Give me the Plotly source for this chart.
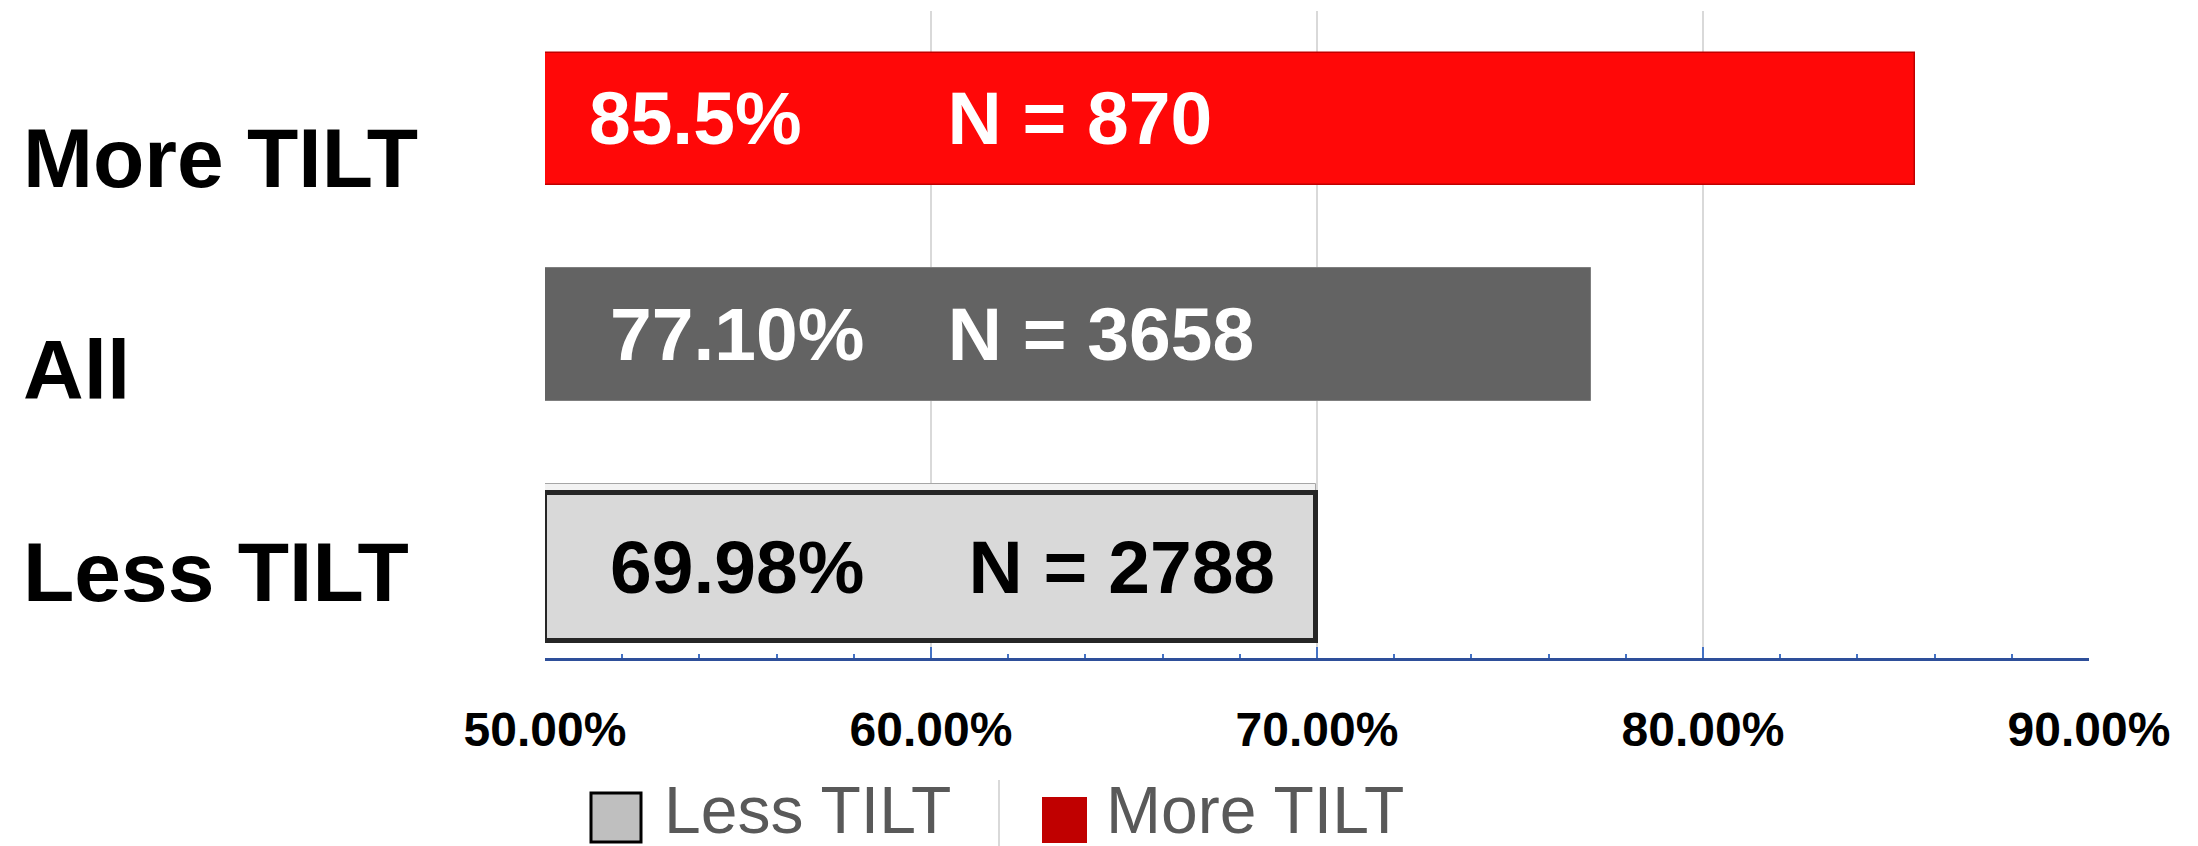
import plotly.graph_objects as go

# ---- data ----
categories = ["Less TILT", "All", "More TILT"]
values = [69.98, 77.10, 85.5]
pct_labels = ["69.98%", "77.10%", "85.5%"]
n_labels = ["N = 2788", "N = 3658", "N = 870"]
axis_min = 50
axis_max = 90
tick_values = [50, 60, 70, 80, 90]
tick_labels = ["50.00%", "60.00%", "70.00%", "80.00%", "90.00%"]
legend_names = ["Less TILT", "More TILT"]

# ---- styles ----
W, H = 2198, 846
L, R, T, B = 545, 2089, 11, 658
NB = "\u00a0"
lead_spaces = [3, 3, 2]
gap_spaces = [5, 4, 7]
bar_colors = ["#D9D9D9", "#636363", "#FF0808"]
line_colors = ["#262626", "#7F7F7F", "#C00000"]
line_widths = [5, 1, 1.5]
text_colors = ["#000000", "#FFFFFF", "#FFFFFF"]
bar_widths = [0.686, 0.615, 0.615]
bar_offsets = [-0.422, -0.3075, -0.3075]
label_yshift = [-22, -35, -39]

ARIAL = "Liberation Sans, Arial, sans-serif"

def px_x(p):
    return (p - L) / (R - L)

def px_y(p):
    return (B - p) / (B - T)

bar_text = [NB * lead_spaces[i] + pct_labels[i] + NB * gap_spaces[i] + n_labels[i]
            for i in range(len(categories))]
sizes = [v - axis_min for v in values]

fig = go.Figure()

# subtle shadow bar behind the emphasised "Less TILT" bar
fig.add_trace(go.Bar(
    y=categories[:1], x=sizes[:1], base=axis_min, orientation="h",
    width=0.615, marker=dict(color="#F2F2F2", line=dict(color="#A6A6A6", width=1)),
    showlegend=False, hoverinfo="skip",
))

fig.add_trace(go.Bar(
    y=categories, x=sizes, base=axis_min, orientation="h",
    width=bar_widths, offset=bar_offsets,
    marker=dict(color=bar_colors, line=dict(color=line_colors, width=line_widths)),
    text=bar_text, textposition="inside", insidetextanchor="start",
    textfont=dict(family=ARIAL, size=75, color=text_colors, weight="bold"),
    constraintext="none", textangle=0,
    showlegend=False,
))

annotations = []
for i, c in enumerate(categories):
    annotations.append(dict(
        x=px_x(21), xref="paper", xanchor="left",
        y=c, yref="y", yanchor="middle", yshift=label_yshift[i],
        text=c, showarrow=False,
        font=dict(family=ARIAL, size=84, color="#000000", weight="bold"),
    ))

# legend drawn manually (large swatches)
shapes = [
    dict(type="rect", xref="paper", yref="paper",
         x0=px_x(591), x1=px_x(641), y0=px_y(842), y1=px_y(793),
         fillcolor="#BFBFBF", line=dict(color="#000000", width=3)),
    dict(type="line", xref="paper", yref="paper",
         x0=px_x(999), x1=px_x(999), y0=px_y(846), y1=px_y(780),
         line=dict(color="#D9D9D9", width=2)),
    dict(type="rect", xref="paper", yref="paper",
         x0=px_x(1042), x1=px_x(1087), y0=px_y(843), y1=px_y(797),
         fillcolor="#C00000", line=dict(width=0)),
]
annotations.append(dict(x=px_x(662), xref="paper", xanchor="left",
                        y=px_y(810), yref="paper", yanchor="middle",
                        text=legend_names[0], showarrow=False,
                        font=dict(family=ARIAL, size=66, color="#595959")))
annotations.append(dict(x=px_x(1104), xref="paper", xanchor="left",
                        y=px_y(810), yref="paper", yanchor="middle",
                        text=legend_names[1], showarrow=False,
                        font=dict(family=ARIAL, size=66, color="#595959")))

fig.update_layout(
    width=W, height=H,
    margin=dict(l=L, r=W - R, t=T, b=H - B, pad=0),
    paper_bgcolor="white", plot_bgcolor="white",
    showlegend=False,
    bargap=0,
    annotations=annotations,
    shapes=shapes,
    xaxis=dict(
        range=[axis_min, axis_max], tickmode="array",
        tickvals=tick_values, ticktext=tick_labels,
        showgrid=True, gridcolor="#D9D9D9", gridwidth=1.5,
        showline=True, linecolor="#2E4F9A", linewidth=3,
        ticks="inside", ticklen=11, tickcolor="#4472C4", tickwidth=2,
        minor=dict(dtick=2, tick0=50, ticks="inside", ticklen=4,
                   tickcolor="#4472C4", tickwidth=1.5, showgrid=False),
        tickfont=dict(family=ARIAL, size=48, color="#000000", weight="bold"),
        ticklabelstandoff=27,
        zeroline=False, fixedrange=True,
    ),
    yaxis=dict(
        range=[-0.5, 2.5], showticklabels=False, showgrid=False,
        showline=False, zeroline=False, ticks="", fixedrange=True,
    ),
)

fig.write_html("out.html", config={"displayModeBar": False},
               post_script="document.body.style.margin='0';")
